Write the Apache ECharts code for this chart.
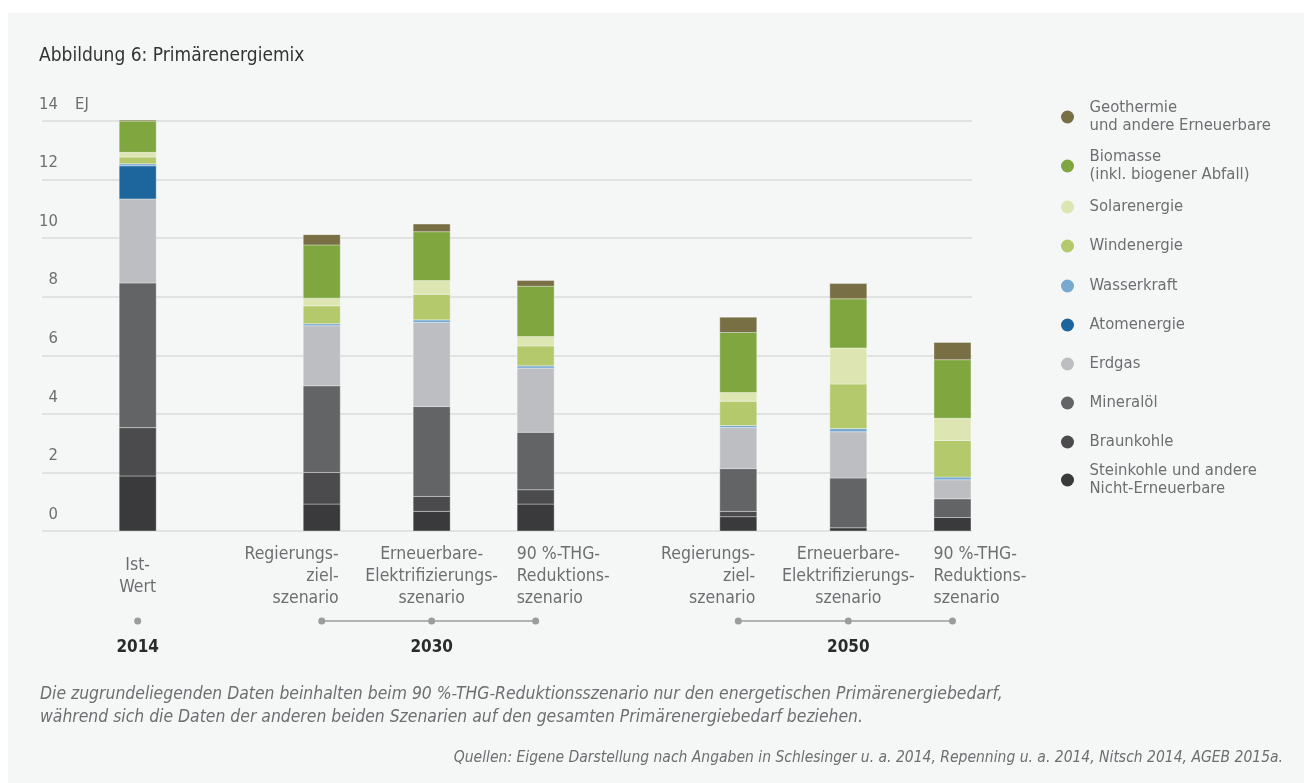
<!DOCTYPE html>
<html>
<head>
<meta charset="utf-8">
<title>Primärenergiemix</title>
<script src="https://cdn.jsdelivr.net/npm/echarts@6/dist/echarts.min.js"></script>
<style>
  html, body { margin: 0; padding: 0; background: #ffffff; }
  #chart { width: 1304px; height: 783px; }
</style>
</head>
<body>
<div id="chart"></div>
<script>
// ---- data (EJ) ----
const scenarios = [
  'Ist-\nWert',
  'Regierungs-\nziel-\nszenario',
  'Erneuerbare-\nElektrifizierungs-\nszenario',
  '90 %-THG-\nReduktions-\nszenario',
  'Regierungs-\nziel-\nszenario',
  'Erneuerbare-\nElektrifizierungs-\nszenario',
  '90 %-THG-\nReduktions-\nszenario'
];
const scenarioYear = ['2014', '2030', '2030', '2030', '2050', '2050', '2050'];
const yTicks = [0, 2, 4, 6, 8, 10, 12, 14];
const unit = 'EJ';

const steinkohle = [1.88, 0.92, 0.67, 0.92, 0.49, 0.11, 0.46];
const braunkohle = [1.65, 1.08, 0.51, 0.49, 0.18, 0.00, 0.00];
const mineraloel = [4.94, 2.96, 3.07, 1.96, 1.46, 1.70, 0.64];
const erdgas     = [2.87, 2.05, 2.87, 2.19, 1.40, 1.58, 0.65];
const atomenergie= [1.13, 0.00, 0.00, 0.00, 0.00, 0.00, 0.00];
const wasserkraft= [0.07, 0.07, 0.09, 0.08, 0.07, 0.11, 0.09];
const windenergie= [0.23, 0.61, 0.87, 0.68, 0.83, 1.52, 1.25];
const solarenergie=[0.16, 0.26, 0.47, 0.32, 0.30, 1.23, 0.76];
const biomasse   = [1.07, 1.82, 1.67, 1.72, 2.05, 1.68, 2.00];
const geothermie = [0.03, 0.35, 0.26, 0.19, 0.52, 0.52, 0.59];

// stack order: bottom to top
const sources = [
  { name: 'Steinkohle und andere\nNicht-Erneuerbare', values: steinkohle,   color: '#3a3a3c' },
  { name: 'Braunkohle',                               values: braunkohle,   color: '#4b4b4d' },
  { name: 'Mineralöl',                                values: mineraloel,   color: '#636466' },
  { name: 'Erdgas',                                   values: erdgas,       color: '#bdbec1' },
  { name: 'Atomenergie',                              values: atomenergie,  color: '#1c659d' },
  { name: 'Wasserkraft',                              values: wasserkraft,  color: '#78a9d1' },
  { name: 'Windenergie',                              values: windenergie,  color: '#b4c96c' },
  { name: 'Solarenergie',                             values: solarenergie, color: '#dde6b3' },
  { name: 'Biomasse\n(inkl. biogener Abfall)',        values: biomasse,     color: '#80a640' },
  { name: 'Geothermie\nund andere Erneuerbare',       values: geothermie,   color: '#786f45' }
];

// ---- layout ----
const FONT = "'Liberation Sans Narrow', 'DejaVu Sans Condensed', 'Liberation Sans', sans-serif";
const GREY_TEXT = '#6d6e70';
const BAR_W = 37;
// horizontal slot of each scenario on the (hidden) 0..100 x scale
const slotX = [10.29, 30.08, 41.9, 53.08, 74.87, 86.7, 97.9];
// legend rows (vertical centre of each row), top to bottom
const legendRowY = [117, 166, 207, 246, 286, 325, 364, 403, 442, 480];
const LEGEND_LH = 18;

// cumulative stacking
const cumulative = slotX.map(() => 0);
const barSeries = sources.map(src => {
  const data = src.values.map((v, i) => {
    const lo = cumulative[i];
    const hi = lo + v;
    cumulative[i] = hi;
    return [slotX[i], lo, hi];
  });
  return {
    name: src.name,
    type: 'custom',
    itemStyle: { color: src.color },
    encode: { x: 0, y: [1, 2] },
    data: data,
    silent: true,
    renderItem: function (params, api) {
      const lo = api.value(1), hi = api.value(2);
      if (!(hi > lo)) return null;
      const a = api.coord([api.value(0), lo]);
      const b = api.coord([api.value(0), hi]);
      return {
        type: 'rect',
        shape: { x: a[0] - BAR_W / 2, y: b[1], width: BAR_W, height: a[1] - b[1] },
        style: { fill: api.visual('color'), stroke: 'rgba(255,255,255,0.35)', lineWidth: 1 }
      };
    }
  };
});

// scenario labels, timeline dots and year captions under the bars
function yearGroup(i) {
  return scenarios.map((_, k) => k).filter(k => scenarioYear[k] === scenarioYear[i]);
}
function scenarioPlacement(i) {
  const group = yearGroup(i);
  if (group.length === 1) return { align: 'center', dx: 0 };
  const pos = group.indexOf(i);
  if (pos === 0) return { align: 'right', dx: 17 };
  if (pos === group.length - 1) return { align: 'left', dx: -19 };
  return { align: 'center', dx: 0 };
}

const axisSeries = {
  name: 'scenarioAxis',
  type: 'custom',
  silent: true,
  clip: false,
  encode: { x: 0, y: 1 },
  data: slotX.map(x => [x, 0]),
  renderItem: function (params, api) {
    const i = params.dataIndex;
    const p = api.coord([slotX[i], 0]);
    const cx = p[0], y0 = p[1];
    const pl = scenarioPlacement(i);
    const children = [];
    children.push({
      type: 'text',
      style: {
        text: scenarios[i], x: cx + pl.dx, y: y0 + 45,
        align: pl.align, verticalAlign: 'middle',
        fill: GREY_TEXT, fontFamily: FONT, fontSize: 17.5, lineHeight: 22
      }
    });
    const dotY = y0 + 90;
    if (i + 1 < slotX.length && scenarioYear[i + 1] === scenarioYear[i]) {
      const nx = api.coord([slotX[i + 1], 0])[0];
      children.push({
        type: 'line',
        shape: { x1: cx, y1: dotY, x2: nx, y2: dotY },
        style: { stroke: '#9c9c9c', lineWidth: 1.5 }
      });
    }
    children.push({ type: 'circle', shape: { cx: cx, cy: dotY, r: 3.5 }, style: { fill: '#9c9c9c' } });
    const group = yearGroup(i);
    if (group[Math.floor(group.length / 2)] === i) {
      children.push({
        type: 'text',
        style: {
          text: scenarioYear[i], x: cx, y: y0 + 117,
          align: 'center', verticalAlign: 'middle',
          fill: '#2b2b2b', fontFamily: FONT, fontSize: 17, fontWeight: 'bold'
        }
      });
    }
    return { type: 'group', children: children };
  }
};

// one legend block per row so the rows keep their own spacing
const legendNames = sources.map(s => s.name).reverse();
const legends = legendNames.map((name, k) => {
  const lines = name.split('\n').length;
  return {
    data: [name],
    orient: 'vertical',
    left: 1061,
    top: legendRowY[k] - (lines * LEGEND_LH) / 2,
    padding: 0,
    icon: 'circle',
    itemWidth: 34,
    itemHeight: 13,
    selectedMode: false,
    textStyle: { color: GREY_TEXT, fontFamily: FONT, fontSize: 16.5, lineHeight: LEGEND_LH }
  };
});

const chart = echarts.init(document.getElementById('chart'), null, { renderer: 'canvas' });
chart.setOption({
  backgroundColor: '#ffffff',
  animation: false,
  graphic: [{
    type: 'rect', z: -10, silent: true,
    shape: { x: 8, y: 13, width: 1296, height: 770 },
    style: { fill: '#f5f7f7' }
  }],
  title: [
    {
      text: 'Abbildung 6: Primärenergiemix',
      left: 39, top: 47, padding: 0,
      textStyle: { color: '#333333', fontFamily: FONT, fontSize: 19, fontWeight: 'normal' }
    },
    {
      text: 'Die zugrundeliegenden Daten beinhalten beim 90 %-THG-Reduktionsszenario nur den energetischen Primärenergiebedarf,\nwährend sich die Daten der anderen beiden Szenarien auf den gesamten Primärenergiebedarf beziehen.',
      left: 40, top: 683, padding: 0,
      textStyle: { color: GREY_TEXT, fontFamily: FONT, fontSize: 17.4, fontStyle: 'italic', fontWeight: 'normal', lineHeight: 23 }
    },
    {
      text: 'Quellen: Eigene Darstellung nach Angaben in Schlesinger u. a. 2014, Repenning u. a. 2014, Nitsch 2014, AGEB 2015a.',
      right: 21, top: 750, padding: 0,
      textStyle: { color: GREY_TEXT, fontFamily: FONT, fontSize: 15.5, fontStyle: 'italic', fontWeight: 'normal' }
    }
  ],
  legend: legends,
  grid: { left: 42, right: 332, top: 121, bottom: 252, containLabel: false },
  xAxis: { type: 'value', min: 0, max: 100, show: false },
  yAxis: {
    type: 'value',
    min: yTicks[0], max: yTicks[yTicks.length - 1], interval: 2,
    name: unit,
    nameLocation: 'end',
    nameGap: 8,
    nameTextStyle: { color: GREY_TEXT, fontFamily: FONT, fontSize: 16.5, align: 'left', verticalAlign: 'bottom', padding: [0, 0, 0, 33] },
    axisLine: { show: false },
    axisTick: { show: false },
    axisLabel: {
      inside: true, margin: 16, align: 'right', verticalAlign: 'bottom',
      padding: [0, 0, 8, 0],
      color: GREY_TEXT, fontFamily: FONT, fontSize: 16.5
    },
    splitLine: { lineStyle: { color: '#dadcdc', width: 1.5 } }
  },
  series: barSeries.concat([axisSeries])
});
</script>
</body>
</html>
